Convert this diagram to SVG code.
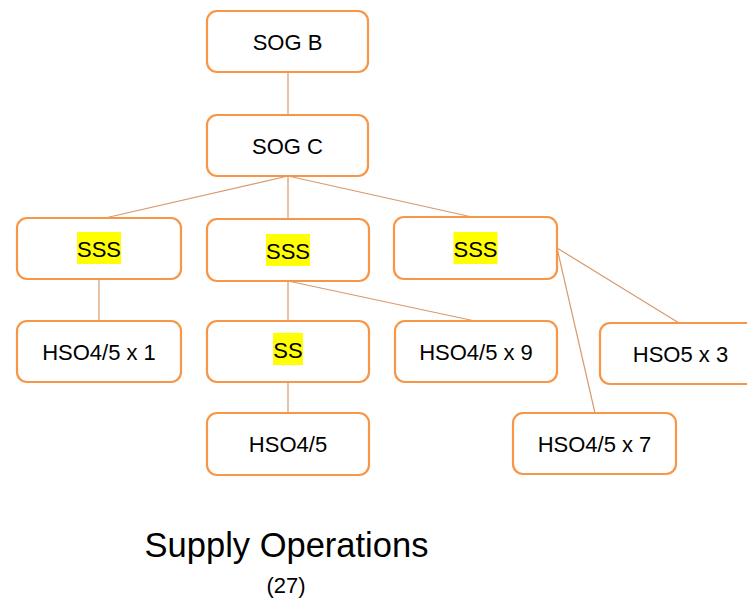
<svg xmlns="http://www.w3.org/2000/svg" width="747" height="599" viewBox="0 0 747 599">
<style>
.box{fill:#fff;stroke:#F79646;stroke-width:2.2}
.t{font-family:"Liberation Sans",Arial,sans-serif;font-size:22px;fill:#000;text-anchor:middle}
.hl{fill:#FFFF00}
.c line{stroke:#D9996B;stroke-width:1.2}
</style>
<rect width="747" height="599" fill="#fff"/>
<g class="c" id="connectors">
<line x1="288" y1="72" x2="288" y2="115"/>
<line x1="288" y1="176" x2="105" y2="218"/>
<line x1="288" y1="176" x2="288" y2="219"/>
<line x1="288" y1="176" x2="472" y2="217"/>
<line x1="99" y1="279" x2="99" y2="321"/>
<line x1="288" y1="281" x2="288" y2="321"/>
<line x1="288" y1="281" x2="475" y2="321"/>
<line x1="288" y1="382" x2="288" y2="413"/>
<line x1="557" y1="248" x2="679" y2="323"/>
<line x1="557" y1="248" x2="595" y2="413"/>
</g>
<g id="sogb"><rect class="box" x="207" y="11" width="161" height="61" rx="10"/><text class="t" x="287.5" y="49.5">SOG B</text></g>
<g id="sogc"><rect class="box" x="207" y="115" width="161" height="61" rx="10"/><text class="t" x="287.5" y="153.5">SOG C</text></g>
<g id="sss1"><rect class="box" x="17" y="218" width="164" height="61" rx="10"/><rect class="hl" x="77" y="232" width="44" height="32"/><text class="t" x="99" y="257">SSS</text></g>
<g id="sss2"><rect class="box" x="207" y="219" width="162" height="62" rx="10"/><rect class="hl" x="266" y="234" width="44" height="32"/><text class="t" x="288" y="259">SSS</text></g>
<g id="sss3"><rect class="box" x="394" y="217" width="163" height="62" rx="10"/><rect class="hl" x="453.5" y="232" width="44" height="32"/><text class="t" x="475.5" y="257">SSS</text></g>
<g id="hso1"><rect class="box" x="17" y="321" width="164" height="61" rx="10"/><text class="t" x="99" y="359.5">HSO4/5 x 1</text></g>
<g id="ss"><rect class="box" x="207" y="321" width="162" height="61" rx="10"/><rect class="hl" x="273" y="333" width="30" height="32"/><text class="t" x="288" y="358">SS</text></g>
<g id="hso9"><rect class="box" x="395" y="321" width="162" height="61" rx="10"/><text class="t" x="476" y="359.5">HSO4/5 x 9</text></g>
<g id="hso3"><rect class="box" x="600" y="323" width="161" height="61" rx="10"/><text class="t" x="680.5" y="361.5">HSO5 x 3</text></g>
<g id="hso45"><rect class="box" x="207" y="413" width="162" height="62" rx="10"/><text class="t" x="288" y="452">HSO4/5</text></g>
<g id="hso7"><rect class="box" x="513" y="413" width="163" height="61" rx="10"/><text class="t" x="594.5" y="451.5">HSO4/5 x 7</text></g>
<g id="title">
<text x="286.5" y="557" font-family="'Liberation Sans',Arial,sans-serif" font-size="34.5" text-anchor="middle" fill="#000">Supply Operations</text>
<text x="286" y="593" font-family="'Liberation Sans',Arial,sans-serif" font-size="22" text-anchor="middle" fill="#000">(27)</text>
</g>
</svg>
